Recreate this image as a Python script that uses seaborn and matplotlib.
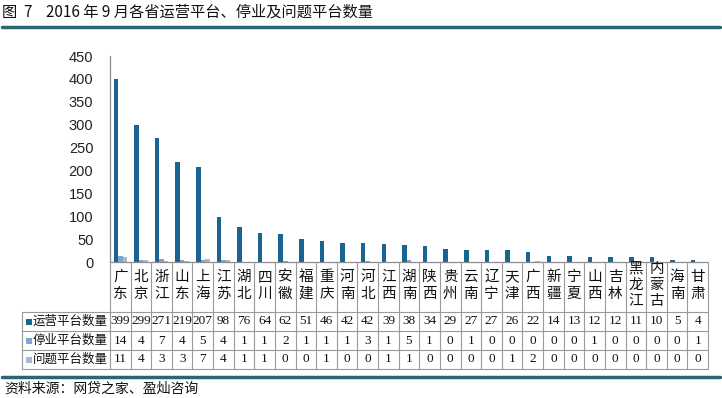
import matplotlib
matplotlib.use("Agg")
import matplotlib.pyplot as plt
import seaborn as sns
import pandas as pd
from matplotlib.transforms import blended_transform_factory
from matplotlib.lines import Line2D
from matplotlib.patches import Rectangle

provinces = ["广东", "北京", "浙江", "山东", "上海", "江苏", "湖北", "四川", "安徽", "福建",
             "重庆", "河南", "河北", "江西", "湖南", "陕西", "贵州", "云南", "辽宁", "天津",
             "广西", "新疆", "宁夏", "山西", "吉林", "黑龙江", "内蒙古", "海南", "甘肃"]
operating = [399, 299, 271, 219, 207, 98, 76, 64, 62, 51, 46, 42, 42, 39, 38, 34, 29, 27, 27,
             26, 22, 14, 13, 12, 12, 11, 10, 5, 4]
stopped = [14, 4, 7, 4, 5, 4, 1, 1, 2, 1, 1, 1, 3, 1, 5, 1, 0, 1, 0, 0, 0, 0, 0, 1, 0, 0, 0, 0, 1]
problem = [11, 4, 3, 3, 7, 4, 1, 1, 0, 0, 1, 0, 0, 1, 1, 0, 0, 0, 0, 1, 2, 0, 0, 0, 0, 0, 0, 0, 0]
series_names = ["运营平台数量", "停业平台数量", "问题平台数量"]
yticks = [0, 50, 100, 150, 200, 250, 300, 350, 400, 450]
title = "图  7    2016 年 9 月各省运营平台、停业及问题平台数量"
source = "资料来源：网贷之家、盈灿咨询"

colors = ["#1a6492", "#7fa6d0", "#a9b8cc"]

sns.set_theme(style="white")
plt.rcParams["font.family"] = ["Noto Sans CJK SC", "DejaVu Sans"]

df = pd.DataFrame({
    "省份": provinces * 3,
    "系列": sum([[s] * len(provinces) for s in series_names], []),
    "数量": operating + stopped + problem,
})

W, H = 722, 398
fig = plt.figure(figsize=(W / 100, H / 100), dpi=100)
ax = fig.add_axes([110 / W, 1 - 262 / H, (708 - 110) / W, (262 - 56) / H])

sns.barplot(data=df, x="省份", y="数量", hue="系列", palette=colors, width=0.66,
            saturation=1, ax=ax, legend=False, order=provinces, hue_order=series_names,
            linewidth=0, edgecolor="none")

ax.set_xlim(-0.5, len(provinces) - 0.5)
ax.set_ylim(0, 450)
ax.set_yticks(yticks)
ax.set_yticklabels([str(v) for v in yticks], family="Liberation Sans", fontsize=10.5, color="#222222")
ax.set_xticks([])
ax.set_xlabel("")
ax.set_ylabel("")
for side in ["top", "right"]:
    ax.spines[side].set_visible(False)
for side in ["left", "bottom"]:
    ax.spines[side].set_color("#8c8c8c")
    ax.spines[side].set_linewidth(0.9)
ax.tick_params(axis="y", length=0, pad=12)

def fy(py):
    return 1 - py / H

def fx(px):
    return px / W

tr = blended_transform_factory(ax.transData, fig.transFigure)
grid_c = "#9a9a9a"
n = len(provinces)

# vertical lines of category row and table
for i in range(n + 1):
    x = i - 0.5
    fig.add_artist(Line2D([x, x], [fy(262), fy(369)], transform=tr, color=grid_c, lw=0.8))
# horizontal lines
for py in [312, 331, 350, 369]:
    fig.add_artist(Line2D([fx(22), fx(708)], [fy(py), fy(py)], color=grid_c, lw=0.8))
fig.add_artist(Line2D([fx(22), fx(22)], [fy(312), fy(369)], color=grid_c, lw=0.8))

# category labels (vertical stacked chars)
for i, name in enumerate(provinces):
    if len(name) == 2:
        ys = [277, 294]
    else:
        ys = [269, 285, 301]
    for ch, py in zip(name, ys):
        fig.text(i, fy(py), ch, transform=tr, ha="center", va="center", fontsize=10.5,
                 color="#111111")

# table rows
rows = [operating, stopped, problem]
row_centers = [321.5, 340.5, 359.5]
for r, (vals, name, col, py) in enumerate(zip(rows, series_names, colors, row_centers)):
    fig.add_artist(Rectangle((fx(26), fy(py + 3.5)), 6 / W, 6 / H, color=col, lw=0))
    fig.text(fx(33), fy(py), name, ha="left", va="center", fontsize=9, color="#111111")
    for i, v in enumerate(vals):
        fig.text(i, fy(py), str(v), transform=tr, ha="center", va="center",
                 fontsize=9.5, family="Liberation Serif", color="#111111")

# title and rules
fig.text(fx(2), fy(12), title, ha="left", va="center", fontsize=11, color="#111111")
teal = "#2a6670"
fig.add_artist(Line2D([fx(2), fx(720)], [fy(27), fy(27)], color=teal, lw=2.5))
fig.add_artist(Line2D([fx(2), fx(720)], [fy(377), fy(377)], color=teal, lw=2.5))
fig.text(fx(4), fy(389), source, ha="left", va="center", fontsize=10, color="#111111")

fig.savefig("out.png", dpi=100)
